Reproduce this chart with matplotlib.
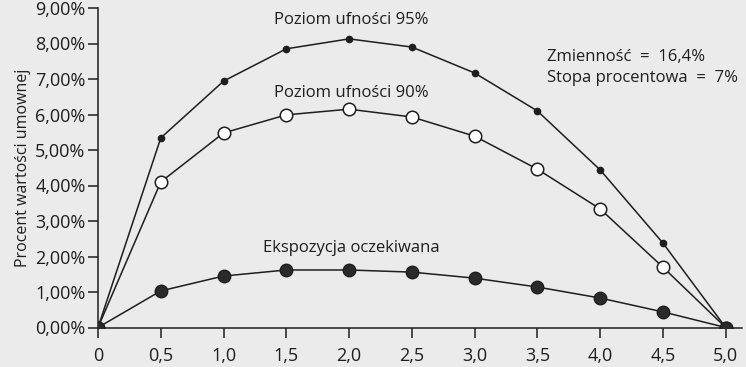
import matplotlib
matplotlib.use("Agg")
import matplotlib.pyplot as plt
from matplotlib.ticker import FuncFormatter

x = [0, 0.5, 1.0, 1.5, 2.0, 2.5, 3.0, 3.5, 4.0, 4.5, 5.0]
conf95 = [0, 5.34, 6.94, 7.85, 8.13, 7.90, 7.17, 6.10, 4.44, 2.38, 0]
conf90 = [0, 4.10, 5.48, 5.99, 6.15, 5.93, 5.39, 4.46, 3.34, 1.70, 0]
expected = [0, 1.03, 1.45, 1.62, 1.62, 1.56, 1.39, 1.14, 0.83, 0.44, 0]
xtick_labels = ["0", "0,5", "1,0", "1,5", "2,0", "2,5", "3,0", "3,5", "4,0", "4,5", "5,0"]
yticks = [0, 1, 2, 3, 4, 5, 6, 7, 8, 9]

plt.rcParams['font.family'] = ['Open Sans', 'DejaVu Sans']
bg = '#ebebeb'
ink = '#1e1e1e'

fig = plt.figure(figsize=(7.46, 3.67), dpi=100, facecolor=bg)
ax = fig.add_axes([98/746, (367-327.5)/367, (742-98)/746, (327.5-8)/367])
ax.set_facecolor(bg)

ax.plot(x, conf95, color=ink, lw=1.1, marker='o', ms=4.5, mfc=ink, mec=ink, zorder=3)
ax.plot(x, conf90, color=ink, lw=1.1, marker='o', ms=9, mfc='white', mec=ink, mew=1.1, zorder=4)
ax.plot(x, expected, color=ink, lw=1.1, marker='o', ms=9, mfc='#2a2a2a', mec=ink, zorder=5)

ax.set_xlim(0, 5.13)
ax.set_ylim(0, 9)
ax.set_xticks(x)
ax.set_xticklabels(xtick_labels)
ax.set_yticks(yticks)
ax.yaxis.set_major_formatter(FuncFormatter(lambda v, p: f"{v:.2f}%".replace('.', ',')))

for s in ['top', 'right']:
    ax.spines[s].set_visible(False)
for s in ['left', 'bottom']:
    ax.spines[s].set_color(ink)
    ax.spines[s].set_linewidth(1.1)

ax.tick_params(axis='y', direction='out', length=7, width=1.1, colors=ink, labelsize=13, pad=2)
ax.tick_params(axis='x', direction='out', length=7, width=1.1, colors=ink, labelsize=13, pad=7)

ax.set_ylabel("Procent wartości umownej", fontsize=11.5, color=ink, labelpad=3)

fs = 12
ax.text(2.02, 8.65, "Poziom ufności 95%", ha='center', va='center', fontsize=fs, color=ink)
ax.text(2.02, 6.6, "Poziom ufności 90%", ha='center', va='center', fontsize=fs, color=ink)
ax.text(2.02, 2.25, "Ekspozycja oczekiwana", ha='center', va='center', fontsize=fs, color=ink)
ax.text(3.58, 7.62, "Zmienność  =  16,4%", ha='left', va='center', fontsize=fs, color=ink)
ax.text(3.58, 7.02, "Stopa procentowa  =  7%", ha='left', va='center', fontsize=fs, color=ink)

fig.savefig("out.png", dpi=100, facecolor=bg)
